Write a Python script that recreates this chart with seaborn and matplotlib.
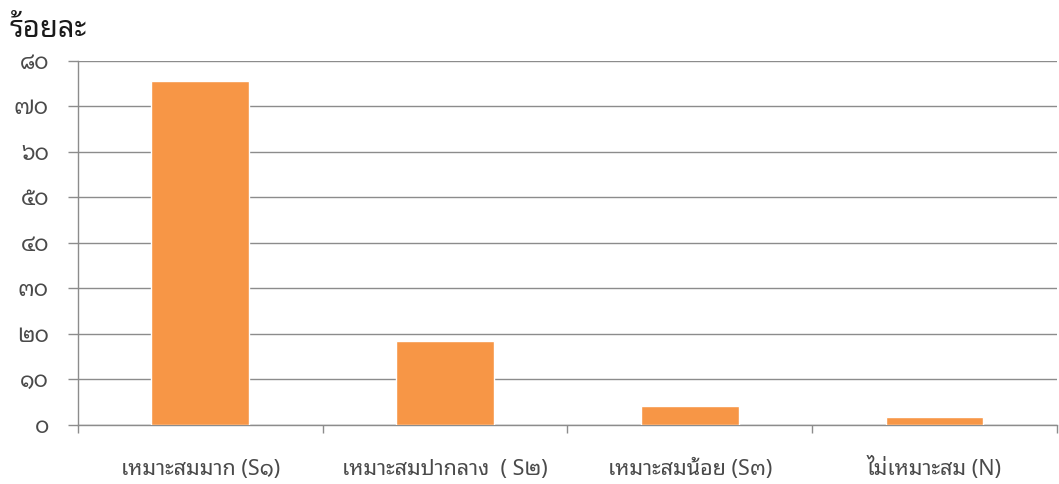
import matplotlib
matplotlib.use("Agg")
import matplotlib.pyplot as plt
from matplotlib.ticker import FixedLocator
import seaborn as sns
import pandas as pd

categories = ["เหมาะสมมาก (S๑)", "เหมาะสมปากลาง  ( S๒)", "เหมาะสมน้อย (S๓)", "ไม่เหมาะสม (N)"]
values = [75.7, 18.3, 4.0, 1.6]
ytick_values = [0, 10, 20, 30, 40, 50, 60, 70, 80]
ytick_labels = ["๐", "๑๐", "๒๐", "๓๐", "๔๐", "๕๐", "๖๐", "๗๐", "๘๐"]
y_title = "ร้อยละ"

sns.set_theme(style="white")
plt.rcParams["font.family"] = ["Noto Sans Thai Looped", "Loma", "DejaVu Sans"]

grid_c = "#8c8c8c"
text_c = "#4a4a4a"

df = pd.DataFrame({"cat": categories, "val": values})
fig = plt.figure(figsize=(10.59, 4.84), dpi=100)
ax = fig.add_axes([0.0737, 0.1229, 0.9243, 0.7511])
sns.barplot(data=df, x="cat", y="val", color="#F79646", width=0.4,
            saturation=1, ax=ax, zorder=3)

ax.set_xlim(-0.5, len(categories) - 0.5)
ax.set_ylim(0, 80)
ax.set_yticks(ytick_values)
ax.set_yticklabels(ytick_labels)
ax.yaxis.grid(True, color=grid_c, linewidth=1)
ax.set_axisbelow(True)
for s in ["top", "right"]:
    ax.spines[s].set_visible(False)
for s in ["left", "bottom"]:
    ax.spines[s].set_color(grid_c)
    ax.spines[s].set_linewidth(1)
ax.set_xlabel("")
ax.set_ylabel("")

ax.tick_params(axis="y", which="major", left=True, length=7, width=1,
               color=grid_c, pad=14, labelsize=16, labelcolor=text_c)
ax.tick_params(axis="x", which="major", bottom=False, length=0, pad=36,
               labelsize=15.5, labelcolor=text_c)
for lab in ax.get_xticklabels():
    lab.set_verticalalignment("baseline")
ax.xaxis.set_minor_locator(FixedLocator([i - 0.5 for i in range(len(categories) + 1)]))
ax.tick_params(axis="x", which="minor", bottom=True, length=6, width=1,
               color=grid_c, direction="out")

fig.text(0.009, 0.94, y_title, fontsize=21, fontweight="bold", color="#1a1a1a",
         ha="left", va="center")
fig.savefig("out.png", dpi=100)
